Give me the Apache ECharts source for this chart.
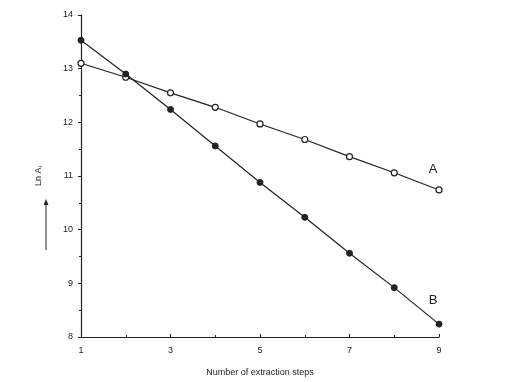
<!DOCTYPE html>
<html>
<head>
<meta charset="utf-8">
<script src="https://cdn.jsdelivr.net/npm/echarts@6/dist/echarts.min.js"></script>
<style>html,body{margin:0;padding:0;background:#fff}#c{width:518px;height:382px}</style>
</head>
<body>
<div id="c"></div>
<script>
var steps = [1, 2, 3, 4, 5, 6, 7, 8, 9];
var seriesA = [13.10, 12.84, 12.55, 12.28, 11.97, 11.68, 11.36, 11.06, 10.74];
var seriesB = [13.53, 12.90, 12.24, 11.56, 10.88, 10.23, 9.56, 8.92, 8.24];
var xTicks = [1, 3, 5, 7, 9];
var yTicks = [8, 9, 10, 11, 12, 13, 14];
var labelA = 'A', labelB = 'B';

var chart = echarts.init(document.getElementById('c'), null, {renderer: 'canvas'});
var ink = '#222';
function pts(v) { return steps.map(function (s, i) { return [s, v[i]]; }); }
chart.setOption({
  animation: false,
  grid: {left: 81, right: 79, top: 15, bottom: 45, outerBoundsMode: 'none', containLabel: false},
  xAxis: {
    type: 'value', min: xTicks[0], max: xTicks[xTicks.length - 1], interval: 2,
    axisLine: {lineStyle: {color: ink, width: 1.2}},
    axisTick: {inside: true, length: 3, lineStyle: {color: ink}},
    minorTick: {show: true, splitNumber: 2, length: 2, lineStyle: {color: ink}},
    axisLabel: {color: ink, fontSize: 9, fontFamily: 'Liberation Sans', margin: 9},
    splitLine: {show: false},
    name: 'Number of extraction steps', nameLocation: 'middle', nameGap: 31,
    nameTextStyle: {color: ink, fontSize: 9, fontFamily: 'Liberation Sans'}
  },
  yAxis: {
    type: 'value', min: yTicks[0], max: yTicks[yTicks.length - 1], interval: 1,
    axisLine: {show: true, lineStyle: {color: ink, width: 1.2}},
    axisTick: {show: true, inside: false, length: 3, lineStyle: {color: ink}},
    minorTick: {show: true, splitNumber: 2, length: 2, lineStyle: {color: ink}},
    axisLabel: {color: ink, fontSize: 9, fontFamily: 'Liberation Sans', margin: 8},
    splitLine: {show: false},
    name: '{n|Ln A}{s|i}', nameLocation: 'middle', nameGap: 38, nameRotate: 90,
    nameTextStyle: {
      color: ink, fontFamily: 'Liberation Sans', padding: [0, 0, 0, 0],
      rich: {n: {fontSize: 9, color: ink}, s: {fontSize: 6, color: ink, verticalAlign: 'bottom'}}
    }
  },
  graphic: [
    {type: 'line', shape: {x1: 46, y1: 250, x2: 46, y2: 203}, style: {stroke: ink, lineWidth: 1}},
    {type: 'polygon', shape: {points: [[46, 199], [43.5, 205], [48.5, 205]]}, style: {fill: ink}}
  ],
  series: [
    {
      type: 'line', data: pts(seriesA), symbol: 'circle', symbolSize: 6,
      lineStyle: {color: ink, width: 1.2},
      itemStyle: {color: '#fff', borderColor: ink, borderWidth: 1.2},
      markPoint: {
        symbol: 'rect', symbolSize: 1, itemStyle: {color: 'rgba(0,0,0,0)'},
        label: {show: true, formatter: labelA, color: ink, fontSize: 13, fontFamily: 'Liberation Sans', offset: [-6, -21]},
        data: [{coord: [steps[8], seriesA[8]]}]
      }
    },
    {
      type: 'line', data: pts(seriesB), symbol: 'circle', symbolSize: 6,
      lineStyle: {color: ink, width: 1.2},
      itemStyle: {color: ink, borderColor: ink, borderWidth: 1},
      markPoint: {
        symbol: 'rect', symbolSize: 1, itemStyle: {color: 'rgba(0,0,0,0)'},
        label: {show: true, formatter: labelB, color: ink, fontSize: 13, fontFamily: 'Liberation Sans', offset: [-6, -24]},
        data: [{coord: [steps[8], seriesB[8]]}]
      }
    }
  ]
});
</script>
</body>
</html>
